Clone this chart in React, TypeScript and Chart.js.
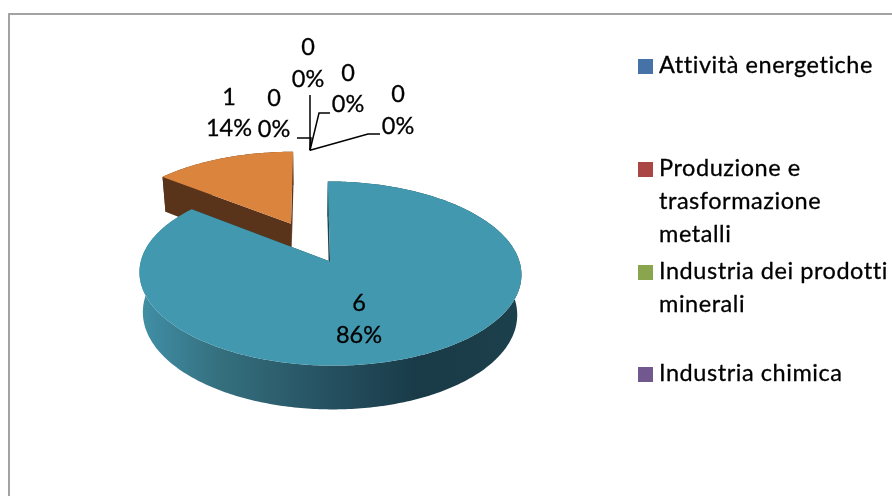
import React, { useEffect, useRef } from "react";
import { Chart, registerables } from "chart.js";

Chart.register(...registerables);

// ---- data ----
const categories = [
  "Attività energetiche",
  "Produzione e trasformazione metalli",
  "Industria dei prodotti minerali",
  "Industria chimica",
  "Categoria 5",
  "Categoria 6",
];
const values = [0, 0, 0, 0, 6, 1];
const sliceColors = ["#4572A7", "#AA4643", "#89A54E", "#71588F", "#4198AF", "#DB843D"];
const legendLines = [
  ["Attività energetiche"],
  ["Produzione e", "trasformazione", "metalli"],
  ["Industria dei prodotti", "minerali"],
  ["Industria chimica"],
];

// ---- presentation ----
const LABEL_FONT = '23.5px Lato, "Open Sans", sans-serif';
const LEGEND_FONT = '23.5px Lato, "Open Sans", sans-serif';
const TILT = 0.4646;
const PERSP = 0.000695;
const legendBaselines = [73, 176, 279, 381];
const LINE_H = 33;
const labelPlaces: [number, number, number][] = [
  [398, 94, 126],
  [348, 73, 104],
  [308, 47, 79],
  [274, 98, 129],
  [359, 303, 335],
  [229, 97, 128],
];
const leaders: [number, number][][] = [
  [[380, 134], [368, 134]],
  [[330, 113], [319, 113]],
  [[310, 95], [310, 95]],
  [[297, 138], [311, 138]],
];

type P = { x: number; y: number };

const pie3d = {
  id: "pie3d",
  beforeDraw(chart: any) {
    const { ctx } = chart;
    ctx.save();
    ctx.fillStyle = "#a3a3a3";
    ctx.fillRect(8, 13, 884, 2);
    ctx.fillRect(8, 13, 2, 483);
    ctx.restore();
  },
  beforeDatasetsDraw(chart: any) {
    const { ctx } = chart;
    const meta = chart.getDatasetMeta(0);
    const arcs = meta.data;
    const cx = arcs[0].x;
    const cy = arcs[0].y;

    const project = (u: number, v: number, lower: boolean): P => {
      const s = 1 / (1 + PERSP * v);
      const x = cx + u * s;
      const y = cy - TILT * v * s;
      if (!lower) return { x, y };
      return { x: cx + (x - cx) * 0.98, y: y + 38.5 - 0.0236 * v };
    };
    const pathOf = (pts: P[]) => {
      ctx.beginPath();
      pts.forEach((p, i) => (i ? ctx.lineTo(p.x, p.y) : ctx.moveTo(p.x, p.y)));
      ctx.closePath();
    };

    const sliceGeom = (arc: any) => {
      const a0 = arc.startAngle + Math.PI / 2;
      const a1 = arc.endAngle + Math.PI / 2;
      const mid = (a0 + a1) / 2;
      const off = arc.options.offset;
      const ou = off * Math.sin(mid);
      const ov = off * Math.cos(mid);
      const R = arc.outerRadius;
      const at = (t: number, r: number, lower: boolean) =>
        project(ou + r * Math.sin(t), ov + r * Math.cos(t), lower);
      const n = Math.max(2, Math.ceil((a1 - a0) / 0.015));
      const ts: number[] = [];
      for (let i = 0; i <= n; i++) ts.push(a0 + ((a1 - a0) * i) / n);
      return { a0, a1, R, at, ts };
    };

    const drawSlice = (arc: any, base: string, wall: (c: any) => any, sideColor: string) => {
      const { a0, a1, R, at, ts } = sliceGeom(arc);
      // radial faces
      ctx.fillStyle = sideColor;
      for (const t of [a0, a1]) {
        pathOf([at(t, 0, false), at(t, R, false), at(t, R, true), at(t, 0, true)]);
        ctx.fill();
      }
      // outer rim
      const rim = [...ts.map((t) => at(t, R, false)), ...ts.slice().reverse().map((t) => at(t, R, true))];
      pathOf(rim);
      ctx.fillStyle = wall(ctx);
      ctx.fill();
      // top face
      pathOf([at(a0, 0, false), ...ts.map((t) => at(t, R, false))]);
      ctx.fillStyle = base;
      ctx.fill();
    };

    // back slice first, then the large front slice
    const order = arcs
      .map((a: any, i: number) => ({ a, i }))
      .filter((o: any) => values[o.i] > 0)
      .sort((p: any, q: any) => values[p.i] - values[q.i]);

    ctx.save();
    for (const { a, i } of order) {
      const base = sliceColors[i];
      if (i === 4) {
        drawSlice(a, base, (c) => {
          const g = c.createLinearGradient(143, 0, 518, 0);
          g.addColorStop(0, "#40909f");
          g.addColorStop(0.02, "#3f8ba2");
          g.addColorStop(0.2, "#35707f");
          g.addColorStop(0.5, "#255060");
          g.addColorStop(0.74, "#193a47");
          g.addColorStop(1, "#1c404c");
          return g;
        }, "#1c404c");
      } else {
        drawSlice(a, base, () => "#59341a", "#59341a");
      }
    }

    // leader lines of the zero-value slices
    ctx.strokeStyle = "#000";
    ctx.lineWidth = 1.5;
    arcs.forEach((a: any, i: number) => {
      if (values[i] !== 0 || !leaders[i]) return;
      const { R, at, a0 } = sliceGeom(a);
      const tip = at(a0, R, false);
      ctx.beginPath();
      leaders[i].forEach((p, j) => (j ? ctx.lineTo(p[0], p[1]) : ctx.moveTo(p[0], p[1])));
      ctx.lineTo(tip.x, tip.y);
      ctx.stroke();
    });

    const label = (t: string, x: number, y: number) => {
      ctx.lineWidth = 0.3;
      ctx.strokeStyle = "#000";
      ctx.strokeText(t, x, y);
      ctx.fillText(t, x, y);
    };

    // data labels: value and share, computed from the data
    const total = values.reduce((s, v) => s + v, 0);
    ctx.font = LABEL_FONT;
    ctx.fillStyle = "#000";
    ctx.textAlign = "center";
    ctx.textBaseline = "middle";
    values.forEach((v, i) => {
      const [x, y1, y2] = labelPlaces[i];
      label(String(v), x, y1);
      label(`${Math.round((v / total) * 100)}%`, x, y2);
    });

    // legend: the box only has room for the first four entries
    ctx.font = LEGEND_FONT;
    (ctx as any).letterSpacing = "0.55px";
    ctx.textAlign = "left";
    ctx.textBaseline = "alphabetic";
    legendLines.forEach((lines, i) => {
      const b = legendBaselines[i];
      ctx.fillStyle = sliceColors[i];
      ctx.fillRect(638, b - 14, 15, 15);
      ctx.fillStyle = "#000";
      lines.forEach((t, j) => label(t, 659, b + j * LINE_H));
    });
    (ctx as any).letterSpacing = "0px";
    ctx.restore();
    return false;
  },
};

export default function App() {
  const ref = useRef<HTMLCanvasElement>(null);
  useEffect(() => {
    const chart = new Chart(ref.current as HTMLCanvasElement, {
      type: "pie",
      data: {
        labels: categories,
        datasets: [
          {
            data: values,
            backgroundColor: sliceColors,
            borderWidth: 0,
            offset: 45,
            hoverOffset: 0,
          },
        ],
      },
      options: {
        animation: false,
        responsive: false,
        events: [],
        layout: { padding: { left: 103.5, right: 375.5, top: 35.5, bottom: 47.5 } },
        plugins: { legend: { display: false }, tooltip: { enabled: false }, title: { display: false } },
      },
      plugins: [pie3d],
    } as any);
    return () => chart.destroy();
  }, []);
  return (
    <div style={{ position: "absolute", left: 0, top: 0, width: 892, height: 496, background: "#fff" }}>
      <canvas ref={ref} width={892} height={496} style={{ display: "block" }} />
    </div>
  );
}
